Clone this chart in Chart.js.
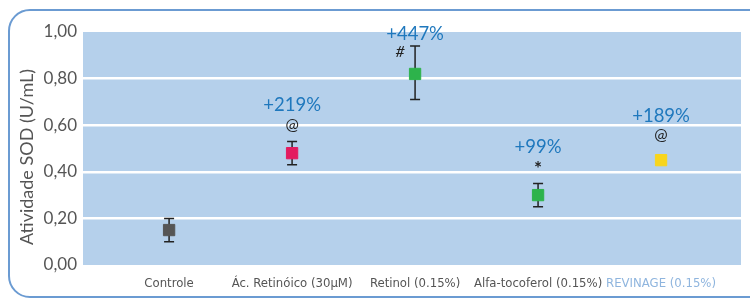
<!DOCTYPE html>
<html>
<head>
<meta charset="utf-8">
<script src="https://cdn.jsdelivr.net/npm/chart.js@4/dist/chart.umd.min.js"></script>
<style>
  html, body { margin: 0; padding: 0; background: #fff; overflow: hidden; }
  #wrap { position: relative; width: 750px; height: 300px; }
  #card {
    position: absolute; left: 8px; top: 9px; width: 780px; height: 289px;
    border: 2.5px solid #6b9bd2; border-radius: 22px; box-sizing: border-box;
  }
  canvas { position: absolute; left: 0; top: 0; }
</style>
</head>
<body>
<div id="wrap">
  <div id="card"></div>
  <canvas id="graph-sod" width="750" height="300"></canvas>
</div>
<script>
const categories = ['Controle', 'Ác. Retinóico (30µM)', 'Retinol (0.15%)', 'Alfa-tocoferol (0.15%)', 'REVINAGE (0.15%)'];
const sodValues = [0.15, 0.48, 0.82, 0.30, 0.45];
const errUp = [0.05, 0.05, 0.12, 0.05, 0];
const errDown = [0.05, 0.05, 0.11, 0.05, 0];
const pointColors = ['#555555', '#e31b5f', '#2db34b', '#2db34b', '#f8d51c'];
const pctLabels = ['', '+219%', '+447%', '+99%', '+189%'];
const marks = ['', '@', '#', '*', '@'];
const yTicks = [0, 0.2, 0.4, 0.6, 0.8, 1.0];
const yTitle = 'Atividade SOD (U/mL)';

// background of the plot area + y axis title
const plotBg = {
  id: 'plotBg',
  beforeDraw(chart) {
    const a = chart.chartArea, ctx = chart.ctx;
    ctx.save();
    ctx.fillStyle = '#b5d0eb';
    ctx.fillRect(a.left, a.top, a.right - a.left, a.bottom - a.top);
    ctx.translate(27, 157);
    ctx.rotate(-Math.PI / 2);
    ctx.fillStyle = '#555';
    ctx.font = '18px Lato';
    ctx.textAlign = 'center';
    ctx.textBaseline = 'middle';
    ctx.fillText(yTitle, 0, 0);
    ctx.restore();
  }
};

// error bars drawn under the squares
const errorBars = {
  id: 'errorBars',
  beforeDatasetsDraw(chart) {
    const x = chart.scales.x, y = chart.scales.y, ctx = chart.ctx;
    ctx.save();
    ctx.strokeStyle = '#222';
    ctx.lineWidth = 1.5;
    sodValues.forEach((v, i) => {
      if (!errUp[i] && !errDown[i]) return;
      const px = x.getPixelForValue(i);
      const top = y.getPixelForValue(v + errUp[i]);
      const bot = y.getPixelForValue(v - errDown[i]);
      ctx.beginPath();
      ctx.moveTo(px, top); ctx.lineTo(px, bot);
      ctx.moveTo(px - 5, top); ctx.lineTo(px + 5, top);
      ctx.moveTo(px - 5, bot); ctx.lineTo(px + 5, bot);
      ctx.stroke();
    });
    ctx.restore();
  }
};

// percent and significance labels
const annotations = {
  id: 'annotations',
  afterDatasetsDraw(chart) {
    const x = chart.scales.x, y = chart.scales.y, ctx = chart.ctx;
    ctx.save();
    ctx.textAlign = 'center';
    ctx.textBaseline = 'middle';
    sodValues.forEach((v, i) => {
      if (!pctLabels[i]) return;
      const px = x.getPixelForValue(i);
      const top = errUp[i] ? y.getPixelForValue(v + errUp[i]) : y.getPixelForValue(v) - 8;
      if (i === 2) {
        ctx.fillStyle = '#1f78bd';
        ctx.font = '18.5px Lato';
        ctx.fillText(pctLabels[i], px, top - 12);
        ctx.fillStyle = '#222';
        ctx.font = 'italic 16px Lato';
        ctx.fillText(marks[i], px - 15, top + 6);
      } else {
        ctx.fillStyle = '#1f78bd';
        ctx.font = '18.5px Lato';
        ctx.fillText(pctLabels[i], px, top - 36);
        ctx.fillStyle = '#222';
        ctx.font = marks[i] === '*' ? 'bold 19px Lato' : '16px Lato';
        ctx.fillText(marks[i], px, top - (marks[i] === '*' ? 15 : 17));
      }
    });
    ctx.restore();
  }
};

const ctxSod = document.getElementById('graph-sod').getContext('2d');
const sodChart = new Chart(ctxSod, {
  type: 'scatter',
  data: {
    datasets: [{
      data: sodValues.map((v, i) => ({ x: i, y: v })),
      backgroundColor: pointColors,
      borderColor: pointColors,
      pointStyle: 'rect',
      pointRadius: 8,
      pointHoverRadius: 8
    }]
  },
  options: {
    responsive: false,
    animation: false,
    layout: { padding: { left: 18, right: 4, top: 32, bottom: 0 } },
    plugins: { legend: { display: false }, tooltip: { enabled: false } },
    scales: {
      x: {
        type: 'linear',
        min: -0.7,
        max: 4.65,
        afterBuildTicks: s => { s.ticks = categories.map((c, i) => ({ value: i })); },
        afterFit: s => { s.height = 35; },
        grid: { display: false },
        border: { display: false },
        ticks: {
          autoSkip: false,
          maxRotation: 0,
          padding: 3,
          font: { family: "'DejaVu Sans Condensed', 'DejaVu Sans', sans-serif", size: 13 },
          color: c => c.index === 4 ? '#8fb5de' : '#555',
          callback: v => categories[v]
        }
      },
      y: {
        min: 0,
        max: 1,
        afterBuildTicks: s => { s.ticks = yTicks.map(v => ({ value: v })); },
        afterFit: s => { s.width = 65; },
        border: { display: false },
        grid: {
          drawTicks: false,
          lineWidth: 2.5,
          color: c => (c.tick.value < 0.01 || c.tick.value > 0.99) ? 'rgba(0,0,0,0)' : '#ffffff'
        },
        ticks: {
          padding: 6,
          font: { family: 'Lato', size: 17 },
          color: '#555',
          callback: v => v.toFixed(2).replace('.', ',')
        },
        title: { display: false }
      }
    }
  },
  plugins: [plotBg, errorBars, annotations]
});
</script>
</body>
</html>
